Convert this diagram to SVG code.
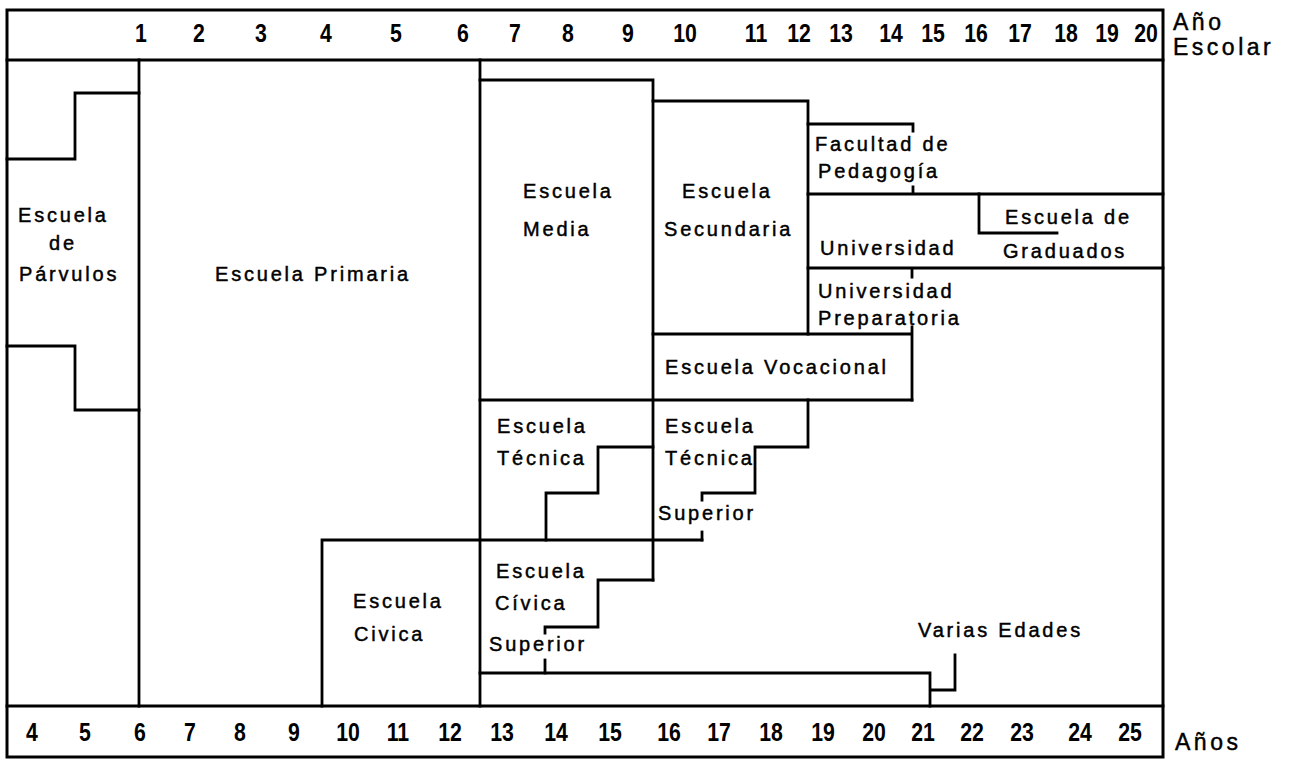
<svg xmlns="http://www.w3.org/2000/svg" width="1290" height="760" viewBox="0 0 1290 760">
<style>
.ln{fill:none;stroke:#000;stroke-width:2.8;stroke-linecap:square;stroke-linejoin:miter}
.fr{fill:none;stroke:#000;stroke-width:3}
.lb{font-family:"Liberation Sans",Arial,sans-serif;font-size:20px;letter-spacing:2.8px;fill:#000;stroke:#000;stroke-width:0.45}
.nm{font-family:"Liberation Sans",Arial,sans-serif;font-size:25px;font-weight:bold;fill:#000;text-anchor:middle}
.ax{font-family:"Liberation Sans",Arial,sans-serif;font-size:23px;letter-spacing:3.5px;fill:#000;stroke:#000;stroke-width:0.45}
</style>
<rect width="1290" height="760" fill="#fff"/>
<g id="frame">
<rect class="fr" x="7" y="10" width="1156" height="747"/>
<path class="ln" d="M7,60 H1163 M7,706 H1163"/>
</g>
<g id="connectors">
<path class="ln" d="M139,60 V706"/>
<path class="ln" d="M139,93 H75 V159 H7"/>
<path class="ln" d="M7,346 H75 V410 H139"/>
<path class="ln" d="M480,60 V706"/>
<path class="ln" d="M480,80 H653 V580"/>
<path class="ln" d="M480,400 H912"/>
<path class="ln" d="M653,101 H808 V334"/>
<path class="ln" d="M808,124 H913 V131"/>
<path class="ln" d="M808,194 H1163 M913,187 V194"/>
<path class="ln" d="M979,194 V233 H1057"/>
<path class="ln" d="M808,268 H1163 M912,268 V277"/>
<path class="ln" d="M653,334 H912 V400 M912,327 V334"/>
<path class="ln" d="M808,400 V447 H755 V493 H702 V500"/>
<path class="ln" d="M702,532 V540"/>
<path class="ln" d="M653,447 H598 V493 H546 V540"/>
<path class="ln" d="M322,706 V540 H702"/>
<path class="ln" d="M653,580 H598 V627 H545 V633"/>
<path class="ln" d="M545,660 V673"/>
<path class="ln" d="M480,673 H930 V706 M930,690 H955 V655"/>
</g>
<g id="escolar-axis">
<g transform="scale(0.85,1)">
<text class="nm" x="165.9" y="42">1</text>
<text class="nm" x="234.1" y="42">2</text>
<text class="nm" x="307.1" y="42">3</text>
<text class="nm" x="383.5" y="42">4</text>
<text class="nm" x="465.9" y="42">5</text>
<text class="nm" x="544.7" y="42">6</text>
<text class="nm" x="605.9" y="42">7</text>
<text class="nm" x="668.2" y="42">8</text>
<text class="nm" x="738.8" y="42">9</text>
<text class="nm" x="805.9" y="42">10</text>
<text class="nm" x="889.4" y="42">11</text>
<text class="nm" x="940" y="42">12</text>
<text class="nm" x="989.4" y="42">13</text>
<text class="nm" x="1048.2" y="42">14</text>
<text class="nm" x="1097.6" y="42">15</text>
<text class="nm" x="1148.2" y="42">16</text>
<text class="nm" x="1200" y="42">17</text>
<text class="nm" x="1254.1" y="42">18</text>
<text class="nm" x="1302.4" y="42">19</text>
<text class="nm" x="1348.2" y="42">20</text>
</g>
<text class="ax" x="1173" y="30">Año</text>
<text class="ax" x="1173" y="55">Escolar</text>
</g>
<g id="edad-axis">
<g transform="scale(0.85,1)">
<text class="nm" x="37.6" y="741">4</text>
<text class="nm" x="100" y="741">5</text>
<text class="nm" x="164.7" y="741">6</text>
<text class="nm" x="223.5" y="741">7</text>
<text class="nm" x="282.4" y="741">8</text>
<text class="nm" x="345.9" y="741">9</text>
<text class="nm" x="409.4" y="741">10</text>
<text class="nm" x="468.2" y="741">11</text>
<text class="nm" x="529.4" y="741">12</text>
<text class="nm" x="590.6" y="741">13</text>
<text class="nm" x="654.1" y="741">14</text>
<text class="nm" x="717.6" y="741">15</text>
<text class="nm" x="787.1" y="741">16</text>
<text class="nm" x="845.9" y="741">17</text>
<text class="nm" x="907.1" y="741">18</text>
<text class="nm" x="968.2" y="741">19</text>
<text class="nm" x="1028.2" y="741">20</text>
<text class="nm" x="1085.9" y="741">21</text>
<text class="nm" x="1143.5" y="741">22</text>
<text class="nm" x="1202.4" y="741">23</text>
<text class="nm" x="1270.6" y="741">24</text>
<text class="nm" x="1329.4" y="741">25</text>
</g>
<text class="ax" x="1175" y="750">Años</text>
</g>
<g id="parvulos"><text class="lb" x="18" y="222">Escuela</text><text class="lb" x="49" y="250">de</text><text class="lb" x="19" y="281">Párvulos</text></g>
<g id="primaria"><text class="lb" x="215" y="281">Escuela Primaria</text></g>
<g id="media"><text class="lb" x="523" y="198">Escuela</text><text class="lb" x="523" y="236">Media</text></g>
<g id="secundaria"><text class="lb" x="682" y="198">Escuela</text><text class="lb" x="664" y="236">Secundaria</text></g>
<g id="pedagogia"><text class="lb" x="815" y="151">Facultad de</text><text class="lb" x="818" y="178">Pedagogía</text></g>
<g id="universidad"><text class="lb" x="820" y="255">Universidad</text></g>
<g id="graduados"><text class="lb" x="1005" y="224">Escuela de</text><text class="lb" x="1003" y="258">Graduados</text></g>
<g id="preparatoria"><text class="lb" x="818" y="298">Universidad</text><text class="lb" x="818" y="325">Preparatoria</text></g>
<g id="vocacional"><text class="lb" x="665" y="374">Escuela Vocacional</text></g>
<g id="tecnica"><text class="lb" x="497" y="433">Escuela</text><text class="lb" x="497" y="465">Técnica</text></g>
<g id="tecnica-superior"><text class="lb" x="665" y="433">Escuela</text><text class="lb" x="665" y="465">Técnica</text><text class="lb" x="658" y="520">Superior</text></g>
<g id="civica-superior"><text class="lb" x="496" y="578">Escuela</text><text class="lb" x="495" y="610">Cívica</text><text class="lb" x="489" y="651">Superior</text></g>
<g id="civica"><text class="lb" x="353" y="608">Escuela</text><text class="lb" x="354" y="641">Civica</text></g>
<g id="varias-edades"><text class="lb" x="918" y="637">Varias Edades</text></g>
</svg>
